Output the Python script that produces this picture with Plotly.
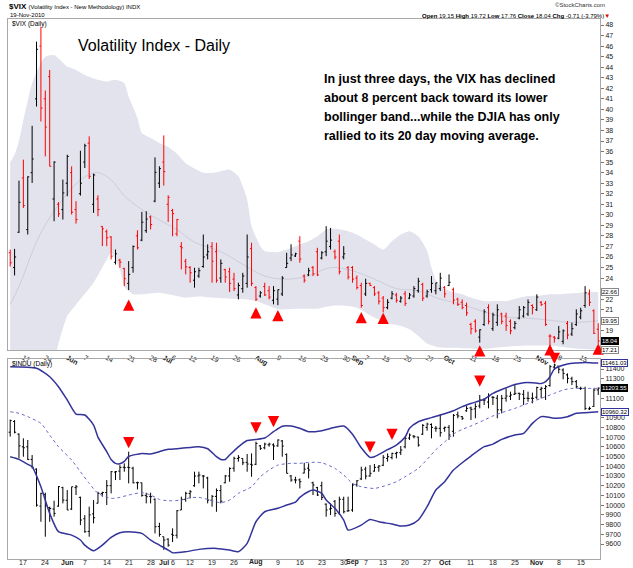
import pandas as pd
import plotly.graph_objects as go

# ---------------- sessions (trading days shown on the chart) ----------------
sessions = [d.strftime('%m-%d') for d in pd.bdate_range('2010-05-12', '2010-11-19')
            if d.strftime('%m-%d') not in ('05-31', '07-05', '09-06')]
pos = {d: k for k, d in enumerate(sessions)}
X = list(range(len(sessions)))

# ---------------- $VIX daily bars ----------------
vix_open = [26.4, 25.0, 28.35, 33.5, 28.6, 34.0, 41.0, 46.0, 41.0, 43.11,
            31.5, 31.0, 30.5, 33.0, 34.0, 30.5, 32.0, 35.0, 36.8, 31.0,
            31.5, 28.9, 28.4, 27.9, 25.5, 25.7, 24.9, 23.5, 25.0, 28.0,
            27.6, 28.5, 29.8, 31.3, 33.0, 35.0, 31.0, 30.4, 28.2, 27.0,
            25.6, 25.0, 23.8, 24.2, 25.1, 26.2, 27.0, 26.5, 24.0, 24.8,
            24.6, 23.9, 22.4, 23.0, 23.5, 26.8, 23.1, 22.3, 23.2, 22.8,
            21.9, 22.0, 22.5, 25.0, 25.9, 26.1, 27.5, 24.2, 24.3, 25.0,
            26.5, 25.9, 26.5, 27.0, 26.5, 27.5, 26.0, 25.0, 25.0, 24.0,
            23.3, 22.5, 23.5, 23.1, 22.6, 22.1, 21.2, 22.1, 22.4, 21.8,
            22.5, 22.1, 22.3, 22.8, 23.4, 22.3, 22.9, 22.8, 23.0, 23.1,
            23.3, 22.9, 22.0, 21.7, 21.4, 19.6, 19.9, 18.4, 19.6, 21.2,
            19.2, 19.8, 20.6, 20.4, 19.9, 19.3, 20.2, 20.4, 20.6, 21.4,
            21.0, 21.7, 21.6, 18.5, 18.4, 18.3, 18.0, 19.7, 18.7, 19.6,
            20.3, 21.4, 22.5, 20.9, 19.15]
vix_high = [26.7, 26.77, 33.24, 35.23, 33.65, 38.44, 46.42, 47.84, 41.79, 43.74,
            35.07, 31.2, 33.34, 35.70, 34.6, 31.3, 36.08, 36.74, 37.44, 33.9,
            31.85, 28.92, 28.61, 27.97, 26.71, 25.83, 24.98, 25.61, 27.09, 28.54,
            30.28, 30.34, 29.93, 35.45, 34.6, 37.53, 31.85, 30.56, 29.61, 27.41,
            25.83, 25.14, 24.98, 24.98, 28.13, 27.2, 27.41, 27.35, 25.77, 24.88,
            24.98, 24.5, 23.56, 24.5, 28.13, 27.35, 23.24, 22.77, 23.56, 23.24,
            23.24, 22.92, 24.19, 26.4, 27.2, 26.4, 27.97, 24.35, 24.98, 25.14,
            26.87, 26.55, 28.92, 28.76, 26.71, 28.13, 27.03, 25.14, 25.14, 24.25,
            23.56, 23.94, 23.56, 23.24, 22.77, 22.3, 22.0, 22.77, 22.6, 22.3,
            22.77, 22.6, 23.24, 24.03, 23.56, 22.9, 24.19, 23.56, 24.5, 23.24,
            24.35, 23.1, 22.14, 21.98, 21.67, 19.77, 20.09, 19.14, 21.04, 21.51,
            20.72, 21.51, 20.72, 20.72, 20.09, 19.93, 21.35, 21.35, 21.98, 21.51,
            22.46, 21.82, 21.82, 18.67, 18.51, 19.46, 19.14, 19.93, 19.77, 21.04,
            21.19, 23.24, 22.92, 21.04, 19.72]
vix_low = [25.1, 24.25, 28.29, 30.65, 28.13, 33.02, 40.27, 38.85, 35.54, 34.6,
           29.39, 29.8, 29.55, 31.76, 30.03, 29.17, 31.82, 34.44, 33.40, 30.18,
           29.87, 27.03, 27.03, 25.77, 25.29, 24.98, 23.24, 22.87, 24.51, 26.71,
           27.5, 28.29, 28.61, 31.19, 32.55, 32.77, 29.33, 27.97, 27.97, 24.82,
           24.35, 23.56, 23.09, 24.03, 24.98, 25.77, 23.56, 23.56, 23.56, 23.56,
           22.67, 22.77, 21.98, 22.61, 23.09, 23.24, 21.82, 22.14, 22.3, 21.98,
           21.51, 21.43, 22.3, 24.98, 25.61, 26.0, 25.45, 23.56, 24.19, 24.19,
           24.19, 25.77, 26.08, 26.71, 25.77, 24.35, 25.77, 23.87, 23.56, 22.92,
           21.19, 22.3, 23.24, 22.3, 21.5, 20.75, 21.04, 21.98, 21.67, 21.67,
           21.35, 22.0, 22.14, 22.61, 21.82, 22.14, 22.61, 22.46, 22.77, 22.14,
           23.24, 21.51, 21.35, 21.04, 20.41, 18.67, 18.83, 17.88, 19.46, 19.62,
           18.99, 19.46, 19.62, 18.99, 18.67, 19.14, 20.09, 20.25, 20.41, 20.56,
           20.88, 21.35, 19.46, 17.41, 17.88, 18.2, 17.72, 18.2, 18.51, 19.46,
           20.09, 21.19, 21.35, 18.7, 17.76]
vix_close = [25.45, 26.0, 31.19, 30.87, 33.6, 35.29, 45.7, 40.12, 38.32, 34.6,
             35.0, 30.1, 32.07, 35.54, 30.25, 29.55, 33.0, 36.55, 33.65, 33.78,
             30.5, 28.67, 27.82, 26.08, 26.3, 25.51, 23.94, 24.35, 27.0, 26.87,
             29.3, 29.6, 29.08, 34.03, 34.38, 34.1, 31.66, 30.12, 29.55, 26.87,
             25.07, 24.51, 24.6, 24.7, 26.0, 26.5, 25.6, 23.8, 25.4, 24.1,
             23.5, 23.0, 23.3, 24.2, 26.0, 23.5, 22.0, 22.6, 22.4, 22.2,
             22.8, 22.9, 24.0, 25.4, 26.2, 26.3, 25.8, 23.8, 24.7, 24.4,
             24.3, 26.4, 27.5, 27.6, 26.0, 24.6, 26.3, 24.1, 23.9, 23.1,
             21.4, 23.5, 23.3, 22.5, 21.8, 21.2, 21.7, 22.5, 21.9, 22.1,
             21.6, 22.4, 23.0, 23.7, 22.1, 22.7, 23.5, 23.55, 24.0, 22.5,
             23.6, 21.9, 21.5, 21.2, 20.7, 19.2, 19.0, 19.1, 20.8, 19.9,
             20.5, 21.0, 19.9, 19.5, 19.0, 19.7, 21.0, 21.2, 21.7, 21.2,
             22.2, 21.5, 19.6, 18.5, 18.3, 18.9, 19.0, 18.6, 19.2, 20.6,
             20.9, 22.6, 21.7, 18.75, 18.04]

# VIX Bollinger bands (20,2)
vix_upper_dates = ['05-12', '05-13', '05-14', '05-17', '05-18', '05-19', '05-21', '05-24', '05-26', '05-27',
                   '06-01', '06-03', '06-07', '06-10', '06-14', '06-16', '06-18', '06-21', '06-23', '06-24',
                   '06-28', '06-30', '07-02', '07-07', '07-09', '07-13', '07-15', '07-19', '07-21', '07-23',
                   '07-27', '07-29', '07-30', '08-03', '08-04', '08-09', '08-11', '08-13', '08-18', '08-20',
                   '08-24', '08-26', '08-31', '09-02', '09-07', '09-09', '09-13', '09-15', '09-17', '09-21',
                   '09-23', '09-27', '09-28', '09-29', '09-30', '10-04', '10-07', '10-11', '10-14', '10-19',
                   '10-21', '10-26', '10-28', '11-02', '11-04', '11-08', '11-11', '11-15', '11-17', '11-19']
vix_upper = [35.0, 35.7, 37.0, 39.0, 40.8, 42.5, 44.4, 45.0, 45.16, 44.85,
             44.06, 43.74, 43.27, 42.8, 42.64, 42.8, 42.48, 41.22, 39.17, 37.75,
             37.28, 36.8, 36.43, 35.8, 34.9, 34.4, 34.0, 33.97, 34.13, 34.28,
             33.65, 31.44, 28.92, 27.03, 26.56, 26.46, 26.71, 27.03, 27.5, 27.97,
             28.61, 28.67, 28.45, 28.13, 27.66, 27.19, 26.71, 27.5, 28.13, 28.45,
             27.97, 26.6, 25.0, 23.8, 23.24, 22.77, 22.46, 22.14, 21.82, 21.82,
             21.82, 22.14, 22.3, 22.36, 22.46, 22.46, 22.55, 22.61, 22.7, 22.66]
vix_lower_dates = ['05-12', '05-17', '05-20', '05-24', '05-25', '05-26', '05-27', '05-28', '06-01', '06-04',
                   '06-09', '06-14', '06-15', '06-17', '06-18', '06-22', '06-24', '06-30', '07-07', '07-09',
                   '07-14', '07-19', '07-23', '07-29', '08-02', '08-04', '08-09', '08-11', '08-13', '08-20',
                   '08-24', '08-26', '08-31', '09-02', '09-07', '09-09', '09-13', '09-15', '09-17', '09-21',
                   '09-23', '09-27', '09-30', '10-07', '10-14', '10-21', '10-28', '11-04', '11-11', '11-19']
vix_lower = [14.5, 13.5, 12.5, 13.0, 14.5, 16.0, 17.8, 19.2, 20.4, 22.0,
             23.56, 25.77, 26.4, 24.82, 23.2, 22.46, 22.46, 22.61, 22.3, 22.14,
             22.25, 22.14, 22.05, 21.98, 21.82, 21.51, 21.04, 21.04, 21.1, 21.1,
             21.29, 21.41, 21.35, 21.19, 20.72, 20.25, 19.93, 19.62, 19.46, 19.14,
             18.51, 17.8, 17.41, 17.35, 17.3, 17.5, 17.6, 17.6, 17.35, 17.21]
vix_mid_dates = ['05-12', '05-14', '05-21', '06-01', '06-07', '06-10', '06-15', '06-18', '06-24', '06-30',
                 '07-07', '07-13', '07-21', '07-28', '08-04', '08-11', '08-18', '08-25', '09-01', '09-09',
                 '09-16', '09-23', '09-30', '10-07', '10-14', '10-21', '10-28', '11-04', '11-11', '11-19']
vix_mid = [21.5, 23.2, 28.3, 32.0, 33.6, 34.0, 33.3, 31.8, 30.5, 29.5,
           28.6, 27.4, 26.5, 25.3, 24.2, 23.9, 24.2, 25.0, 24.7, 23.9,
           23.0, 22.8, 22.0, 21.5, 20.8, 20.3, 20.2, 20.0, 19.8, 19.95]

# ---------------- $INDU daily bars ----------------
indu_open = [10750, 10860, 10730, 10600, 10600, 10470, 10370, 9990, 10110, 9975,
             9960, 9990, 10180, 10050, 9960, 10180, 10080, 9860, 9730, 9910,
             10020, 10120, 10130, 10200, 10340, 10350, 10390, 10390, 10380, 10230,
             10230, 10100, 10090, 10060, 9780, 9675, 9650, 9700, 9690, 9950,
             10060, 10120, 10200, 10300, 10300, 10280, 10050, 10090, 10150, 10230,
             10300, 10380, 10480, 10480, 10440, 10420, 10420, 10610, 10590, 10620,
             10620, 10610, 10660, 10520, 10300, 10260, 10260, 10330, 10380, 10230,
             10180, 10200, 10010, 9960, 10040, 9920, 10060, 9940, 9950, 10210,
             10270, 10370, 10300, 10350, 10390, 10410, 10480, 10490, 10530, 10540,
             10600, 10690, 10710, 10700, 10730, 10800, 10830, 10790, 10790, 10790,
             10800, 10760, 10930, 10910, 10970, 11000, 10990, 11020, 11080, 11060,
             11110, 11100, 10980, 11100, 11120, 11140, 11150, 11140, 11100, 11100,
             11110, 11190, 11200, 11230, 11420, 11430, 11390, 11340, 11300, 11270,
             11200, 11200, 10990, 11015, 11185]
indu_high = [10880, 10875, 10738, 10687, 10670, 10515, 10378, 10128, 10128, 9984,
             10046, 10196, 10189, 10155, 10189, 10207, 10087, 9898, 9984, 10052,
             10138, 10138, 10258, 10351, 10351, 10412, 10430, 10550, 10395, 10241,
             10231, 10128, 10128, 10069, 9819, 9675, 9658, 9761, 9949, 10087,
             10138, 10155, 10344, 10344, 10310, 10292, 10104, 10172, 10207, 10310,
             10388, 10498, 10515, 10481, 10526, 10532, 10652, 10618, 10642, 10642,
             10635, 10676, 10670, 10532, 10310, 10292, 10275, 10436, 10430, 10241,
             10189, 10241, 10018, 10018, 10052, 10087, 10087, 10087, 10224, 10258,
             10395, 10395, 10412, 10423, 10412, 10515, 10532, 10539, 10550, 10608,
             10704, 10738, 10721, 10704, 10834, 10848, 10841, 10814, 10937, 10807,
             10824, 10937, 10961, 10917, 11019, 11013, 11047, 11133, 11098, 11150,
             11122, 11133, 11133, 11201, 11167, 11235, 11157, 11184, 11167, 11157,
             11218, 11218, 11235, 11441, 11452, 11431, 11407, 11355, 11321, 11287,
             11218, 11218, 11013, 11201, 11210]
indu_low = [10705, 10738, 10481, 10498, 10464, 10378, 9984, 9829, 9675, 9829,
            9881, 9984, 10018, 9950, 9950, 10104, 9795, 9716, 9675, 9812,
            10018, 10087, 10001, 10121, 10258, 10258, 10344, 10224, 10224, 10162,
            10087, 10018, 10018, 9709, 9675, 9540, 9572, 9620, 9658, 9949,
            10035, 10069, 10189, 10224, 10172, 10018, 9984, 9932, 10018, 10224,
            10241, 10344, 10447, 10412, 10344, 10292, 10412, 10567, 10574, 10601,
            10464, 10601, 10498, 10327, 10241, 10224, 10172, 10327, 10275, 10104,
            10094, 10052, 9881, 9898, 9881, 9898, 9915, 9932, 9932, 10189,
            10258, 10265, 10292, 10344, 10344, 10402, 10447, 10471, 10481, 10515,
            10584, 10670, 10687, 10601, 10721, 10766, 10687, 10755, 10704, 10755,
            10670, 10704, 10893, 10875, 10961, 10875, 10893, 10995, 11030, 10995,
            11030, 10893, 10944, 11064, 11081, 11133, 11081, 11030, 11064, 11047,
            11088, 11098, 11081, 11218, 11390, 11355, 11294, 11253, 11235, 11201,
            11184, 10978, 10978, 11010, 11133]
indu_close = [10870, 10750, 10610, 10590, 10470, 10390, 10000, 10121, 9994, 9966,
              9915, 10190, 10052, 9950, 10189, 10189, 9847, 9727, 9900, 9870,
              10121, 10130, 10200, 10344, 10344, 10388, 10385, 10385, 10230, 10231,
              10100, 10087, 10087, 9778, 9699, 9641, 9589, 9690, 9943, 10059,
              10121, 10138, 10299, 10310, 10299, 10052, 10090, 10150, 10040, 10300,
              10378, 10481, 10491, 10436, 10423, 10412, 10635, 10584, 10628, 10628,
              10608, 10670, 10608, 10327, 10258, 10258, 10241, 10370, 10361, 10207,
              10104, 10080, 9950, 9967, 9915, 10060, 9932, 9943, 10207, 10251,
              10361, 10299, 10327, 10388, 10402, 10491, 10498, 10532, 10539, 10567,
              10687, 10721, 10704, 10618, 10820, 10834, 10800, 10790, 10745, 10800,
              10721, 10923, 10917, 10893, 10995, 10985, 11013, 11081, 11081, 11122,
              11108, 10980, 11098, 11122, 11133, 11150, 11143, 11098, 11098, 11098,
              11210, 11201, 11218, 11424, 11441, 11397, 11355, 11304, 11270, 11218,
              11201, 10995, 10995, 11184, 11203.55]

indu_upper_dates = ['05-12', '05-20', '05-25', '05-27', '06-01', '06-03', '06-07', '06-09', '06-10', '06-14',
                    '06-15', '06-16', '06-17', '06-18', '06-21', '06-24', '06-28', '06-30', '07-02', '07-08',
                    '07-14', '07-16', '07-20', '07-21', '07-22', '07-23', '07-27', '07-29', '08-02', '08-04',
                    '08-06', '08-10', '08-12', '08-16', '08-18', '08-23', '08-26', '08-30', '09-01', '09-03',
                    '09-08', '09-09', '09-14', '09-16', '09-20', '09-21', '09-23', '09-28', '10-01', '10-05',
                    '10-07', '10-11', '10-14', '10-18', '10-20', '10-25', '10-27', '10-29', '11-02', '11-03',
                    '11-04', '11-05', '11-10', '11-12', '11-16', '11-19']
indu_upper = [11424, 11407, 11321, 11218, 11081, 10937, 10927, 10824, 10700, 10550,
              10470, 10430, 10425, 10450, 10500, 10532, 10526, 10550, 10574, 10584,
              10601, 10580, 10498, 10470, 10470, 10515, 10600, 10665, 10676, 10690,
              10755, 10812, 10814, 10790, 10755, 10766, 10800, 10814, 10730, 10590,
              10491, 10498, 10570, 10618, 10700, 10790, 10858, 10900, 10940, 10971,
              11013, 11045, 11090, 11150, 11190, 11240, 11259, 11259, 11250, 11270,
              11321, 11400, 11451, 11462, 11468, 11461.03]
indu_mid_dates = ['05-12', '05-14', '05-18', '05-21', '05-25', '05-27', '06-02', '06-04', '06-08', '06-10',
                  '06-15', '06-17', '06-21', '06-24', '06-28', '06-30', '07-02', '07-08', '07-12', '07-14',
                  '07-16', '07-21', '07-23', '07-27', '07-30', '08-03', '08-05', '08-09', '08-12', '08-16',
                  '08-18', '08-23', '08-26', '08-30', '09-01', '09-03', '09-09', '09-14', '09-16', '09-20',
                  '09-23', '09-27', '09-29', '10-01', '10-05', '10-07', '10-11', '10-14', '10-18', '10-20',
                  '10-25', '10-27', '10-29', '11-02', '11-05', '11-09', '11-11', '11-16', '11-19']
indu_mid = [10961, 10944, 10910, 10841, 10721, 10601, 10464, 10344, 10224, 10121,
            10069, 10080, 10104, 10128, 10104, 10059, 10045, 10052, 10076, 10080,
            10059, 10025, 10052, 10121, 10189, 10292, 10361, 10412, 10430, 10430,
            10440, 10436, 10378, 10310, 10224, 10189, 10172, 10207, 10241, 10292,
            10378, 10470, 10570, 10650, 10731, 10779, 10814, 10875, 10917, 10951,
            10995, 11030, 11064, 11098, 11150, 11184, 11201, 11201, 11201]
indu_lower_dates = ['05-12', '05-14', '05-18', '05-19', '05-21', '05-25', '05-27', '06-02', '06-04', '06-07',
                    '06-09', '06-11', '06-15', '06-17', '06-21', '06-24', '06-28', '06-30', '07-02', '07-06',
                    '07-09', '07-14', '07-20', '07-23', '07-27', '07-29', '08-02', '08-04', '08-09', '08-11',
                    '08-13', '08-16', '08-18', '08-19', '08-23', '08-24', '08-26', '08-30', '08-31', '09-03',
                    '09-08', '09-10', '09-15', '09-17', '09-21', '09-23', '09-27', '09-29', '10-01', '10-05',
                    '10-07', '10-11', '10-14', '10-18', '10-20', '10-25', '10-27', '10-29', '11-02', '11-03',
                    '11-05', '11-10', '11-12', '11-16', '11-19']
indu_lower = [10498, 10471, 10420, 10395, 10189, 9915, 9727, 9692, 9641, 9589,
              9531, 9589, 9668, 9716, 9727, 9709, 9641, 9589, 9538, 9510,
              9521, 9545, 9555, 9538, 9521, 9607, 9829, 9932, 9967, 10001,
              10030, 10080, 10140, 10155, 10121, 10052, 9967, 9847, 9744, 9795,
              9853, 9829, 9805, 9785, 9795, 9847, 9984, 10155, 10241, 10361,
              10436, 10505, 10601, 10628, 10676, 10721, 10738, 10841, 10910, 10910,
              10893, 10910, 10944, 10951, 10960.32]

# signal arrows
vix_arrow_dates = ['06-21', '08-02', '08-09', '09-03', '09-13', '10-13', '11-04', '11-19']
vix_arrow_tip = [21.98, 21.23, 20.97, 20.78, 20.72, 17.63, 17.73, 17.8]
indu_arrow_dates = ['06-21', '08-02', '08-06', '09-08', '09-15', '10-13', '11-05']
indu_arrow_tip = [10584, 10738, 10800, 10539, 10670, 11218, 11451]

# axis tick labels
tick_dates = ['05-17', '05-24', '06-01', '06-07', '06-14', '06-21', '06-28', '07-01', '07-06', '07-12',
              '07-19', '07-26', '08-02', '08-09', '08-16', '08-23', '08-30', '09-01', '09-07', '09-13',
              '09-20', '09-27', '10-01', '10-11', '10-18', '10-25', '11-01', '11-08', '11-15']
tick_text = ['17', '24', '<b>Jun</b>', '7', '14', '21', '28', '<b>Jul</b>', '6', '12',
             '19', '26', '<b>Aug</b>', '9', '16', '23', '30', '<b>Sep</b>', '7', '13',
             '20', '27', '<b>Oct</b>', '11', '18', '25', '<b>Nov</b>', '8', '15']
vix_ticks = [19, 21, 22] + list(range(24, 49))
indu_ticks = [v for v in range(9600, 11401, 100) if v not in (11000, 11200)]

# ---------------- figure ----------------
W, H = 633, 568
ML, MR, MT, MB = 8, 33, 19, 9
PW, PH = W - ML - MR, H - MT - MB


def px(x):
    return (x - ML) / PW


def py(y):
    return (H - MB - y) / PH


SANS = 'Liberation Sans, Arial, sans-serif'
XR = [-0.5, 134.4]
VIX_R = [17.18, 48.57]
INDU_R = [9446, 11503]

fig = go.Figure()

# VIX band (base axes x/y, drawn beneath the bars)
fig.add_trace(go.Scatter(x=[pos[d] for d in vix_lower_dates], y=vix_lower, mode='lines',
                         line=dict(width=0, shape='spline', smoothing=0.6, color='rgba(0,0,0,0)'),
                         xaxis='x', yaxis='y', hoverinfo='skip', showlegend=False))
fig.add_trace(go.Scatter(x=[pos[d] for d in vix_upper_dates], y=vix_upper, mode='lines',
                         line=dict(width=0, shape='spline', smoothing=0.6, color='rgba(0,0,0,0)'),
                         fill='tonexty', fillcolor='#e3e3ee',
                         xaxis='x', yaxis='y', hoverinfo='skip', showlegend=False))
fig.add_trace(go.Scatter(x=[pos[d] for d in vix_mid_dates], y=vix_mid, mode='lines',
                         line=dict(width=1, shape='spline', color='#cdcdda'),
                         xaxis='x', yaxis='y', hoverinfo='skip', showlegend=False))


def split_bars(o, c):
    up, dn = [], []
    for k in range(len(c)):
        ref = c[k - 1] if k > 0 else o[k]
        (up if c[k] >= ref else dn).append(k)
    return up, dn


# VIX bars on an overlay subplot (x3/y3) so they sit above the band fill
up, dn = split_bars(vix_open, vix_close)
for idx, col in ((up, '#000000'), (dn, '#ff0000')):
    fig.add_trace(go.Ohlc(x=[X[k] for k in idx], open=[vix_open[k] for k in idx],
                          high=[vix_high[k] for k in idx], low=[vix_low[k] for k in idx],
                          close=[vix_close[k] for k in idx],
                          increasing=dict(line=dict(color=col, width=1)),
                          decreasing=dict(line=dict(color=col, width=1)),
                          tickwidth=0.35, xaxis='x3', yaxis='y3', showlegend=False, hoverinfo='skip'))

# INDU bars and bands
fig.add_trace(go.Ohlc(x=X, open=indu_open, high=indu_high, low=indu_low, close=indu_close,
                      increasing=dict(line=dict(color='#000000', width=1)),
                      decreasing=dict(line=dict(color='#000000', width=1)),
                      tickwidth=0.35, xaxis='x2', yaxis='y2', showlegend=False, hoverinfo='skip'))
fig.add_trace(go.Scatter(x=[pos[d] for d in indu_upper_dates], y=indu_upper, mode='lines',
                         line=dict(width=1.5, shape='spline', smoothing=0.6, color='#33339a'),
                         xaxis='x2', yaxis='y2', hoverinfo='skip', showlegend=False))
fig.add_trace(go.Scatter(x=[pos[d] for d in indu_lower_dates], y=indu_lower, mode='lines',
                         line=dict(width=1.5, shape='spline', smoothing=0.6, color='#33339a'),
                         xaxis='x2', yaxis='y2', hoverinfo='skip', showlegend=False))
fig.add_trace(go.Scatter(x=[pos[d] for d in indu_mid_dates], y=indu_mid, mode='lines',
                         line=dict(width=1, shape='spline', smoothing=0.6, color='#6868cc', dash='dot'),
                         xaxis='x2', yaxis='y2', hoverinfo='skip', showlegend=False))

xcommon = dict(range=XR, tickvals=[pos[d] for d in tick_dates], ticktext=tick_text,
               tickfont=dict(family=SANS, size=7, color='#222'), ticks='', showgrid=False,
               zeroline=False, showline=True, mirror=True, linecolor='#a8a8a8', linewidth=1,
               rangeslider=dict(visible=False), fixedrange=True, automargin=False)
ycommon = dict(side='right', showgrid=False, zeroline=False, showline=True, mirror=True,
               linecolor='#a8a8a8', linewidth=1, ticks='outside', ticklen=3, tickcolor='#777',
               tickfont=dict(family=SANS, size=7, color='#222'), automargin=False, fixedrange=True)
top_dom = [py(350), 1]
bot_dom = [0, py(359)]

fig.update_layout(
    width=W, height=H, margin=dict(l=ML, r=MR, t=MT, b=MB, autoexpand=False),
    paper_bgcolor='white', plot_bgcolor='white', showlegend=False,
    xaxis=dict(domain=[0, 1], anchor='y', **xcommon),
    yaxis=dict(domain=top_dom, anchor='x', range=VIX_R,
               tickvals=vix_ticks, ticktext=[str(v) for v in vix_ticks], **ycommon),
    xaxis2=dict(domain=[0, 1], anchor='y2', **dict(xcommon, showticklabels=False)),
    yaxis2=dict(domain=bot_dom, anchor='x2', range=INDU_R,
                tickvals=indu_ticks, ticktext=[str(v) for v in indu_ticks], **ycommon),
    xaxis3=dict(domain=[0, 1], anchor='y3', overlaying='x', range=XR, visible=False,
                rangeslider=dict(visible=False), fixedrange=True, automargin=False),
    yaxis3=dict(domain=top_dom, anchor='x3', overlaying='y', range=VIX_R, visible=False,
                fixedrange=True, automargin=False),
)

ann = []
# header texts
ann.append(dict(x=px(8), y=py(1), xref='paper', yref='paper', xanchor='left', yanchor='top',
                text='<b>$VIX</b> <span style="font-size:6px">(Volatility Index - New Methodology) INDX</span>',
                showarrow=False, font=dict(family=SANS, size=8, color='#000'), borderpad=0))
ann.append(dict(x=px(8), y=py(15), xref='paper', yref='paper', xanchor='left', yanchor='middle',
                text='19-Nov-2010', showarrow=False, font=dict(family=SANS, size=6, color='#000')))
ann.append(dict(x=px(10), y=py(24), xref='paper', yref='paper', xanchor='left', yanchor='middle',
                text='$VIX (Daily)', showarrow=False, font=dict(family=SANS, size=6.5, color='#000')))
ann.append(dict(x=px(10), y=py(364), xref='paper', yref='paper', xanchor='left', yanchor='middle',
                text='$INDU (Daily)', showarrow=False, font=dict(family=SANS, size=6.5, color='#000')))
ann.append(dict(x=px(606), y=py(8.5), xref='paper', yref='paper', xanchor='right', yanchor='bottom',
                text='©StockCharts.com', showarrow=False, borderpad=0,
                font=dict(family=SANS, size=6, color='#333')))
ann.append(dict(x=px(611), y=py(16), xref='paper', yref='paper', xanchor='right', yanchor='middle',
                text='<b>Open</b> 19.15 <b>High</b> 19.72 <b>Low</b> 17.76 <b>Close</b> 18.04 '
                     '<b>Chg</b> -0.71 (-3.79%)<span style="color:#e00000">▼</span>',
                showarrow=False, borderpad=0, font=dict(family=SANS, size=6, color='#000')))
# commentary
ann.append(dict(x=px(76), y=py(45), xref='paper', yref='paper', xanchor='left', yanchor='middle',
                text='Volatility Index - Daily', showarrow=False,
                font=dict(family=SANS, size=16, color='#000')))
body_lines = ['In just three days, the VIX has declined',
              'about 8 percent back toward its lower',
              'bollinger band...while the DJIA has only',
              'rallied to its 20 day moving average.']
for k, line in enumerate(body_lines):
    ann.append(dict(x=px(322), y=py(79 + 19 * k), xref='paper', yref='paper', xanchor='left',
                    yanchor='middle', text=line, showarrow=False,
                    font=dict(family=SANS, size=12.5, color='#000', weight='bold')))
# x labels of the lower panel (drawn as text so they stay inside the window)
for d, t in zip(tick_dates, tick_text):
    ann.append(dict(x=pos[d], y=py(562), xref='x2', yref='paper', xanchor='center', yanchor='middle',
                    text=t, showarrow=False, borderpad=0, font=dict(family=SANS, size=7, color='#222')))
ann.append(dict(x=135, y=py(562), xref='x2', yref='paper', xanchor='center', yanchor='middle',
                text='22', showarrow=False, borderpad=0, font=dict(family=SANS, size=7, color='#222')))

# arrows
for d, v in zip(vix_arrow_dates, vix_arrow_tip):
    ann.append(dict(x=pos[d], y=v, xref='x', yref='y', ax=0, ay=11, text='', showarrow=True,
                    arrowhead=2, arrowsize=0.75, arrowwidth=3, arrowcolor='#ff0000', standoff=0))
for d, v in zip(indu_arrow_dates, indu_arrow_tip):
    ann.append(dict(x=pos[d], y=v, xref='x2', yref='y2', ax=0, ay=-11, text='', showarrow=True,
                    arrowhead=2, arrowsize=0.75, arrowwidth=3, arrowcolor='#ff0000', standoff=0))

# value tags on the right axis
tags = [('y', vix_upper[-1], '#888', 'white', '#000'),
        ('y', vix_mid[-1], '#888', 'white', '#000'),
        ('y', vix_close[-1], '#000', '#000', '#fff'),
        ('y', vix_lower[-1], '#888', 'white', '#000'),
        ('y2', indu_upper[-1], '#33339a', 'white', '#000'),
        ('y2', indu_close[-1], '#000', '#000', '#fff'),
        ('y2', indu_lower[-1], '#33339a', 'white', '#000')]
for yr, v, bc, bg, fc in tags:
    ann.append(dict(x=1, y=v, xref='paper', yref=yr, xanchor='left', yanchor='middle', xshift=1,
                    text=f'{v:.2f}', showarrow=False, bordercolor=bc, borderwidth=1, borderpad=0,
                    bgcolor=bg, font=dict(family=SANS, size=6, color=fc)))

fig.update_layout(annotations=ann)
# the page body has a default 8px margin; remove it so the figure fills the window exactly
fig.write_html('out.html', config={'displayModeBar': False},
               post_script="document.body.style.margin='0';")
